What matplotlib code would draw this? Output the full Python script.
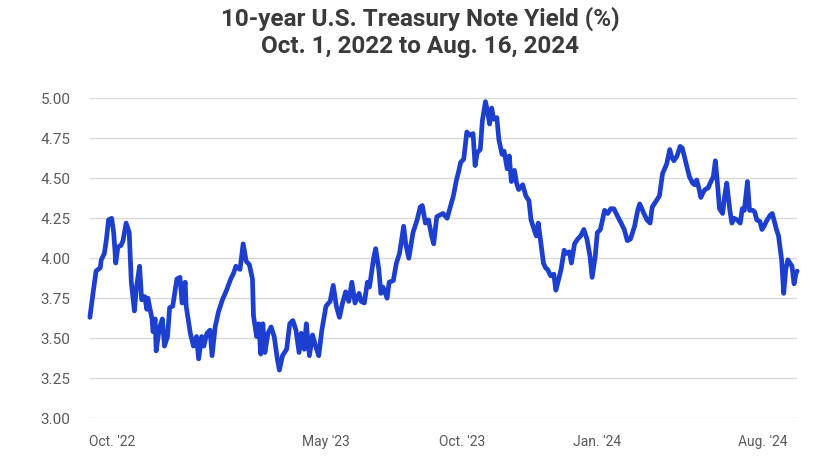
import matplotlib
matplotlib.use("Agg")
import matplotlib.pyplot as plt

# days since Oct. 1, 2022 and the 10-year yield (%)
days = [2, 5, 8, 12, 13, 16, 18, 20, 23, 25, 27, 29, 32, 34, 37, 40, 42, 45, 47, 50,
        52, 55, 57, 58, 62, 63, 65, 66, 69, 72, 74, 77, 79, 82, 86, 89, 91, 94, 95, 99,
        102, 105, 107, 110, 112, 115, 118, 120, 123, 126, 130, 134,
        138, 141, 143, 147, 150, 153, 156, 159, 160, 163, 165, 167, 169, 171, 174, 177,
        180, 183, 185, 188, 192, 195, 198, 201, 204, 206, 209, 211, 214, 217, 220, 223,
        226, 230, 234, 237, 240, 243, 246, 249, 252, 255, 258, 262, 264, 267, 270, 272,
        276, 278, 281, 283, 285, 289, 291, 295, 298, 301, 305, 307, 310, 314, 318, 321,
        323, 326, 329, 332, 334, 337, 340, 343, 347, 350, 353, 356, 358, 360, 363, 366,
        369, 372, 374, 376, 379, 381, 384, 386, 388, 390, 392, 395, 397, 400, 402, 405,
        407, 409, 412,
        414, 416, 420, 423, 426, 428, 430, 433, 435, 437, 440, 442, 444, 447, 450, 452,
        454, 457, 460, 462, 465, 467, 470, 473, 476, 479, 482, 485, 487, 490, 492, 495,
        499, 502, 505, 508, 511, 515, 518, 521, 524, 528, 531, 533, 537, 540, 543, 545,
        549, 552,
        555, 557, 559, 562, 564, 566, 569, 572, 574, 576, 579, 581, 584, 586, 588, 590,
        592, 594, 596, 599, 601, 604, 606, 608, 610, 613, 615, 617, 620, 622, 624, 627,
        630, 632, 634, 637, 639, 642, 644, 646, 649, 651, 653, 656, 659, 661, 663, 665,
        667, 670, 672, 674, 676, 678, 680, 682, 684, 685]

yields = [3.63, 3.78, 3.92, 3.94, 3.99, 4.03, 4.12, 4.24, 4.25, 4.16, 3.97, 4.07, 4.08, 4.11, 4.22, 4.16, 3.85, 3.67, 3.82, 3.95,
          3.74, 3.76, 3.68, 3.75, 3.62, 3.54, 3.62, 3.42, 3.56, 3.62, 3.45, 3.51, 3.69, 3.70, 3.87, 3.88, 3.72, 3.85, 3.70, 3.53,
          3.45, 3.51, 3.37, 3.51, 3.45, 3.53, 3.55, 3.39, 3.57, 3.66, 3.74, 3.80,
          3.87, 3.91, 3.95, 3.93, 4.09, 3.98, 3.96, 3.87, 3.64, 3.51, 3.59, 3.40, 3.59, 3.41, 3.53, 3.57,
          3.51, 3.37, 3.30, 3.39, 3.43, 3.59, 3.61, 3.55, 3.41, 3.53, 3.43, 3.59, 3.39, 3.52, 3.45, 3.39,
          3.55, 3.70, 3.73, 3.83, 3.70, 3.63, 3.72, 3.79, 3.73, 3.85, 3.72, 3.78, 3.73, 3.72, 3.85, 3.82,
          4.00, 4.06, 3.93, 3.78, 3.82, 3.75, 3.85, 3.86, 3.97, 4.03, 4.20, 4.09, 4.00, 4.16, 4.24, 4.32,
          4.33, 4.22, 4.24, 4.14, 4.09, 4.26, 4.27, 4.28, 4.25, 4.32, 4.39, 4.49, 4.54, 4.60, 4.62, 4.79,
          4.77, 4.78, 4.58, 4.66, 4.68, 4.86, 4.98, 4.92, 4.84, 4.94, 4.87, 4.88, 4.74, 4.65, 4.67, 4.56,
          4.64, 4.48, 4.55,
          4.47, 4.43, 4.46, 4.39, 4.36, 4.24, 4.20, 4.14, 4.22, 4.12, 3.97, 3.94, 3.93, 3.89, 3.90, 3.80,
          3.85, 3.93, 4.05, 4.03, 4.04, 3.97, 4.09, 4.12, 4.14, 4.18, 4.12, 4.01, 3.88, 4.01, 4.16, 4.18,
          4.30, 4.28, 4.31, 4.31, 4.27, 4.22, 4.18, 4.11, 4.12, 4.20, 4.30, 4.34, 4.28, 4.24, 4.22, 4.32,
          4.36, 4.39,
          4.53, 4.56, 4.59, 4.68, 4.63, 4.61, 4.64, 4.70, 4.69, 4.64, 4.56, 4.51, 4.47, 4.46, 4.49, 4.44,
          4.38, 4.41, 4.43, 4.44, 4.47, 4.51, 4.61, 4.47, 4.31, 4.28, 4.39, 4.47, 4.30, 4.22, 4.25, 4.24,
          4.22, 4.31, 4.30, 4.48, 4.30, 4.30, 4.29, 4.24, 4.23, 4.18, 4.20, 4.24, 4.27, 4.28, 4.23, 4.18,
          4.14, 3.99, 3.78, 3.93, 3.99, 3.97, 3.95, 3.84, 3.91, 3.92]

tick_days = [23, 230, 361, 492, 652]
tick_labels = ["Oct. '22", "May '23", "Oct. '23", "Jan. '24", "Aug. '24"]
y_ticks = [3.00, 3.25, 3.50, 3.75, 4.00, 4.25, 4.50, 4.75, 5.00]

plt.rcParams['font.family'] = ['Roboto', 'DejaVu Sans']

fig = plt.figure(figsize=(8.4, 4.72), dpi=100)
ax = fig.add_axes([0.107, 0.1144, 0.842, 0.677])

ax.plot(days, yields, color='#1c3fd0', lw=3.4, solid_joinstyle='round',
        solid_capstyle='round', zorder=3, clip_on=False)

ax.set_xlim(2, 685)
ax.set_ylim(3.0, 5.0)
ax.set_yticks(y_ticks)
ax.set_yticklabels([f"{v:.2f}" for v in y_ticks])
ax.set_xticks(tick_days)
ax.set_xticklabels(tick_labels)

ax.grid(axis='y', color='#d9d9d9', lw=1.0, zorder=0)
ax.grid(axis='x', visible=False)
for s in ax.spines.values():
    s.set_visible(False)
ax.tick_params(axis='both', length=0, labelsize=10, labelcolor='#5a5a5a')
ax.tick_params(axis='y', pad=14, labelsize=11)
ax.tick_params(axis='x', pad=12)

fig.text(0.5, 0.960, "10-year U.S. Treasury Note Yield (%)", ha='center', va='center',
         fontsize=17.5, fontweight='bold', color='#3a3a3a')
fig.text(0.5, 0.902, "Oct. 1, 2022 to Aug. 16, 2024", ha='center', va='center',
         fontsize=17.5, fontweight='bold', color='#3a3a3a')

fig.savefig('out.png', dpi=100, facecolor='white')
